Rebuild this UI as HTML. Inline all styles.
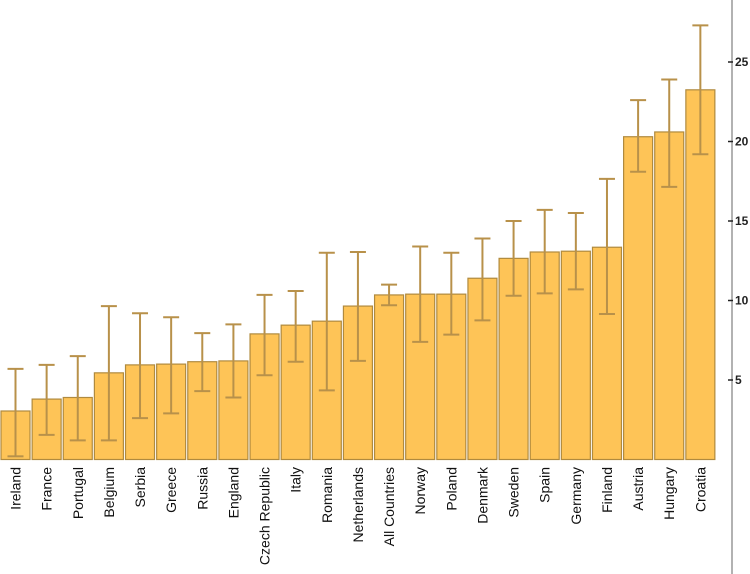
<!DOCTYPE html>
<html><head><meta charset="utf-8"><style>
html,body{margin:0;padding:0;background:#fff;}
svg{display:block;font-family:"Liberation Sans",Arial,sans-serif;}
</style></head><body>
<svg id="chart" width="750" height="574"></svg>
<script>
const categories=["Ireland","France","Portugal","Belgium","Serbia","Greece","Russia","England","Czech Republic","Italy","Romania","Netherlands","All Countries","Norway","Poland","Denmark","Sweden","Spain","Germany","Finland","Austria","Hungary","Croatia"];
const values=[3.05,3.8,3.9,5.45,5.95,6.0,6.15,6.2,7.9,8.45,8.7,9.65,10.35,10.4,10.4,11.4,12.65,13.05,13.1,13.35,20.3,20.6,23.25];
const errHigh=[5.7,5.95,6.5,9.65,9.2,8.95,7.95,8.5,10.35,10.6,13.0,13.05,11.0,13.4,13.0,13.9,15.0,15.7,15.5,17.65,22.6,23.9,27.3];
const errLow=[0.2,1.55,1.2,1.2,2.6,2.9,4.3,3.9,5.3,6.15,4.35,6.2,9.7,7.4,7.85,8.75,10.3,10.45,10.7,9.15,18.1,17.15,19.2];
const ticks=[5,10,15,20,25];
const NS="http://www.w3.org/2000/svg";
const svg=document.getElementById("chart");
const y0=459.5, pxPerUnit=15.9;
function yScale(v){return y0-v*pxPerUnit;}
const left=1, pitch=31.13, bw=29;
function xScale(i){return left+i*pitch;}
function mk(t,a){const e=document.createElementNS(NS,t);for(const k in a)e.setAttribute(k,a[k]);svg.appendChild(e);return e;}
// axis
const ax=mk("line",{x1:732,y1:0,x2:732,y2:574,stroke:"#999","stroke-width":1.5});


ticks.forEach(t=>{
  const y=yScale(t);
  const tl=mk("line",{x1:728,y1:y,x2:733,y2:y,stroke:"#222","stroke-width":1.5});
  
  
  const tx=mk("text",{x:735,y:y+4,"font-size":12,"font-weight":"bold",fill:"#222"});
  tx.textContent=t;
  
  
});
categories.forEach((c,i)=>{
  const x=xScale(i), yt=yScale(values[i]);
  const r=mk("rect",{x:x,y:yt,width:bw,height:y0-yt,fill:"#fec457",stroke:"#b08a3e","stroke-width":1.2});
  
  
  const cx=x+bw/2, yh=yScale(errHigh[i]), yl=yScale(errLow[i]);
  const g=document.createElementNS(NS,"g");
  
  
  svg.appendChild(g);
  [[cx,yh,cx,yl],[cx-8,yh,cx+8,yh],[cx-8,yl,cx+8,yl]].forEach(p=>{
    const l=document.createElementNS(NS,"line");
    l.setAttribute("x1",p[0]);l.setAttribute("y1",p[1]);l.setAttribute("x2",p[2]);l.setAttribute("y2",p[3]);
    l.setAttribute("stroke","#b8914a");l.setAttribute("stroke-width",2);
    g.appendChild(l);
  });
  const t=mk("text",{x:0,y:0,"font-size":14,fill:"#111","text-anchor":"end",transform:`translate(${cx+5},467) rotate(-90)`});
  t.textContent=c;
  
  
});
</script>
</body></html>
